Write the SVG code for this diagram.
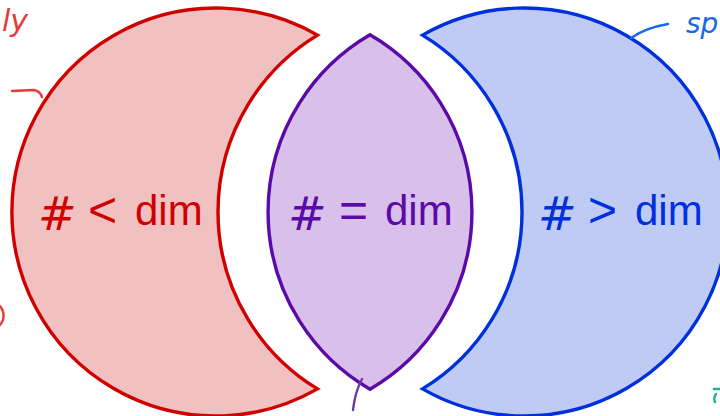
<svg xmlns="http://www.w3.org/2000/svg" width="720" height="416" viewBox="0 0 720 416">
<style>
.shape{stroke-width:3.4;stroke-linejoin:miter;stroke-miterlimit:20}
.lbl{font-family:"Liberation Sans","DejaVu Sans",sans-serif;font-size:42px}
.op{font-family:"Liberation Sans","DejaVu Sans",sans-serif;font-size:50px}
.sym{font-family:"DejaVu Sans","Liberation Sans",sans-serif;font-size:46px;font-style:italic}
.hand{fill:none;stroke-width:2.4;stroke-linecap:round;stroke-linejoin:round}
.note{font-family:"DejaVu Sans","Liberation Sans",sans-serif;font-style:italic}
</style>
<rect width="720" height="416" fill="#ffffff"/>
<g id="less">
<path class="shape" d="M317.5,35.1 A204 204 0 1 0 317.5,388.9 A207 207 0 0 1 317.5,35.1 Z" fill="#f1c1c1" stroke="#d00000"/>
<text class="sym" x="38" y="230" fill="#d00000">#</text>
<text class="op" x="88" y="227" fill="#d00000">&lt;</text>
<text class="lbl" x="135" y="225" fill="#d00000">dim</text>
</g>
<g id="equal">
<path class="shape" d="M370,34.8 A205 205 0 0 0 370,389.2 A205 205 0 0 0 370,34.8 Z" fill="#d8c0ea" stroke="#5b0aa8"/>
<text class="sym" x="288" y="230" fill="#5b0aa8">#</text>
<text class="op" x="339" y="227" fill="#5b0aa8">=</text>
<text class="lbl" x="385" y="225" fill="#5b0aa8">dim</text>
</g>
<g id="greater">
<path class="shape" d="M422.5,35.1 A204 204 0 1 1 422.5,388.9 A207 207 0 0 0 422.5,35.1 Z" fill="#bfcbf4" stroke="#0030dc"/>
<text class="sym" x="538" y="230" fill="#0030dc">#</text>
<text class="op" x="588" y="227" fill="#0030dc">&gt;</text>
<text class="lbl" x="635" y="225" fill="#0030dc">dim</text>
</g>
<g id="annotations">
<text class="note" x="2" y="31" font-size="30" fill="#e83a3a">ly</text>
<path class="hand" d="M12,91 L34,90 Q40,91 42,97" stroke="#e83a3a"/>
<path class="hand" d="M0,306 Q5,312 3,320 Q1,324 0,325" stroke="#e83a3a"/>
<path class="hand" d="M668,24 Q645,28 631,38" stroke="#1a66e8"/>
<text class="note" x="686" y="33" font-size="28" fill="#1a66e8">sp</text>
<path class="hand" d="M362,379 Q355,392 353,410" stroke="#6a3aa8" stroke-width="2.6"/>
<path class="hand" d="M714,389 L720,389 M716,394 Q713,398 715,402" stroke="#20b090" stroke-width="2"/>
</g>
</svg>
